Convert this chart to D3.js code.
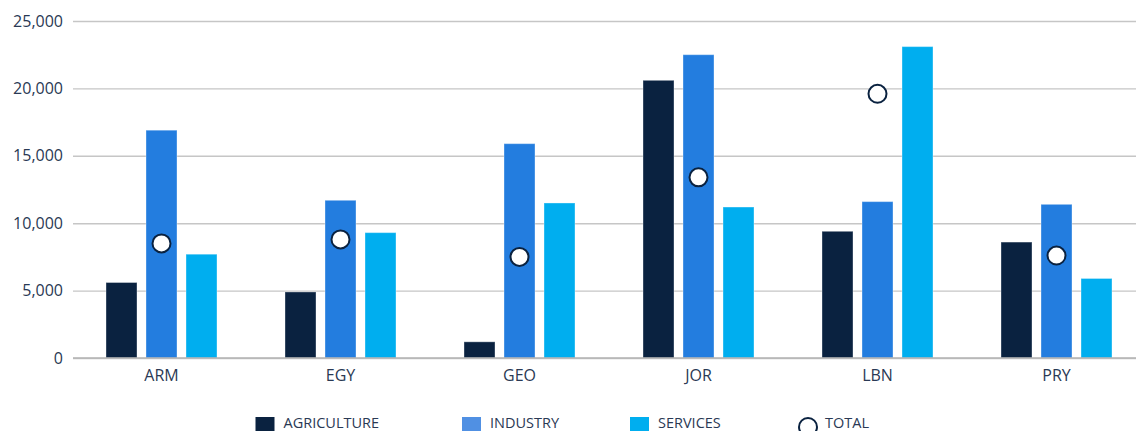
<!DOCTYPE html>
<html>
<head>
<meta charset="utf-8">
<script src="https://cdn.jsdelivr.net/npm/d3@7"></script>
<style>
  html, body { margin: 0; padding: 0; background: #fff; }
  svg { display: block; }
</style>
</head>
<body>
<svg id="chart" width="1136" height="431"></svg>
<script>
// Employment by sector, per country
const countries = ["ARM", "EGY", "GEO", "JOR", "LBN", "PRY"];
const agriculture = [5600, 4900, 1200, 20600, 9400, 8600];
const industry = [16900, 11700, 15900, 22500, 11600, 11400];
const services = [7700, 9300, 11500, 11200, 23100, 5900];
const total = [8500, 8800, 7500, 13400, 19600, 7600];
const yTicks = [0, 5000, 10000, 15000, 20000, 25000];

const seriesNames = ["AGRICULTURE", "INDUSTRY", "SERVICES"];
const seriesValues = [agriculture, industry, services];
const barColors = ["#0a2240", "#237ddf", "#00aeef"];
const swatchColors = ["#0a2240", "#5090e3", "#00aeef"];

const FONT = "'Open Sans', 'Noto Sans', sans-serif";
const TEXT_COLOR = "#2a3954";

const svg = d3.select("#chart");
const plotLeft = 73, plotRight = 1136, plotTop = 21, plotBottom = 358;
const groupWidth = 111;

const y = d3.scaleLinear().domain([0, 25000]).range([plotBottom, plotTop]);
const x0 = d3.scaleBand().domain(countries).range([72, 1146]).padding(0);
const x1 = d3.scaleBand().domain(seriesNames).range([0, groupWidth]).paddingInner(0.225).paddingOuter(0);
const groupLeft = c => x0(c) + x0.bandwidth() / 2 - groupWidth / 2;

// Horizontal gridlines with value labels
const yAxis = d3.axisLeft(y).tickValues(yTicks).tickFormat(d3.format(","))
  .tickSize(-(plotRight - plotLeft)).tickPadding(10);
const gy = svg.append("g").attr("transform", `translate(${plotLeft},0)`).call(yAxis)
  .attr("font-family", FONT);
gy.select(".domain").remove();
gy.selectAll(".tick line").attr("stroke", "#c6c6c6").attr("stroke-width", 1.4);
gy.selectAll(".tick text").attr("fill", TEXT_COLOR).attr("font-size", 16);

// Bars
const groups = svg.append("g").selectAll("g")
  .data(countries)
  .join("g")
  .attr("transform", d => `translate(${groupLeft(d)},0)`);

groups.selectAll("rect")
  .data((c, i) => seriesNames.map((s, k) => ({ s, v: seriesValues[k][i], k })))
  .join("rect")
  .attr("x", d => x1(d.s))
  .attr("width", x1.bandwidth())
  .attr("y", d => y(d.v))
  .attr("height", d => y(0) - y(d.v))
  .attr("fill", d => barColors[d.k])
  .attr("stroke", "#ffffff")
  .attr("stroke-opacity", 0.35)
  .attr("stroke-width", 1);

// Baseline
svg.append("line")
  .attr("x1", plotLeft).attr("x2", plotRight)
  .attr("y1", y(0)).attr("y2", y(0))
  .attr("stroke", "#b3b3b3").attr("stroke-width", 1.5);

// Category labels
const xAxis = d3.axisBottom(x0).tickSize(0).tickPadding(12);
const gx = svg.append("g").attr("transform", `translate(0,${plotBottom})`).call(xAxis)
  .attr("font-family", FONT);
gx.select(".domain").remove();
gx.selectAll(".tick text").attr("fill", TEXT_COLOR).attr("font-size", 16);

// Total markers
svg.append("g").selectAll("circle")
  .data(countries)
  .join("circle")
  .attr("cx", d => groupLeft(d) + x1("INDUSTRY") + x1.bandwidth() / 2)
  .attr("cy", (d, i) => y(total[i]))
  .attr("r", 9)
  .attr("fill", "#ffffff")
  .attr("stroke", "#0a2240")
  .attr("stroke-width", 2);

// Legend
const legendX = [255.5, 462, 630];
const legend = svg.append("g").attr("font-family", FONT).attr("font-size", 14.5).attr("fill", TEXT_COLOR);
seriesNames.forEach((name, k) => {
  legend.append("rect")
    .attr("x", legendX[k]).attr("y", 417)
    .attr("width", 19).attr("height", 19)
    .attr("fill", swatchColors[k]);
  legend.append("text")
    .attr("x", legendX[k] + 28).attr("y", 428)
    .text(name);
});
legend.append("circle")
  .attr("cx", 808).attr("cy", 427).attr("r", 9)
  .attr("fill", "#fff").attr("stroke", "#0a2240").attr("stroke-width", 2);
legend.append("text")
  .attr("x", 825).attr("y", 428)
  .text("TOTAL");
</script>
</body>
</html>
